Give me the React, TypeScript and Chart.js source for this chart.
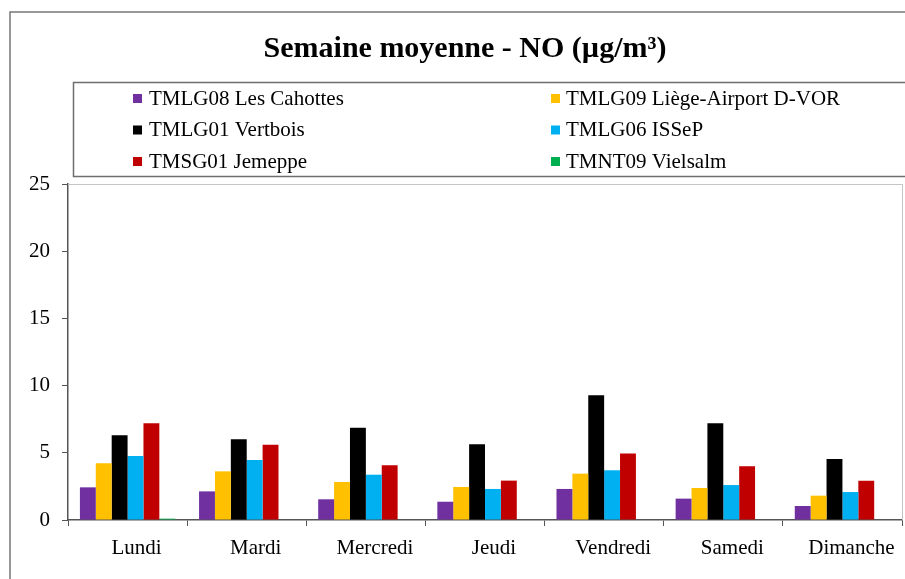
import React, { useEffect, useRef } from "react";
import { Chart, registerables } from "chart.js";

Chart.register(...registerables);

const categories = ["Lundi", "Mardi", "Mercredi", "Jeudi", "Vendredi", "Samedi", "Dimanche"];
const seriesNames = [
  "TMLG08 Les Cahottes",
  "TMLG09 Liège-Airport D-VOR",
  "TMLG01 Vertbois",
  "TMLG06 ISSeP",
  "TMSG01 Jemeppe",
  "TMNT09 Vielsalm",
];
const seriesColors = ["#7030A0", "#FFC000", "#000000", "#00B0F0", "#C00000", "#00B050"];
const lesCahottes = [2.43, 2.13, 1.54, 1.36, 2.31, 1.59, 1.04];
const liegeAirport = [4.22, 3.62, 2.83, 2.46, 3.45, 2.38, 1.81];
const vertbois = [6.3, 6.0, 6.87, 5.63, 9.28, 7.19, 4.54];
const issep = [4.76, 4.46, 3.37, 2.31, 3.7, 2.6, 2.08];
const jemeppe = [7.19, 5.6, 4.07, 2.93, 4.94, 3.99, 2.92];
const vielsalm = [0.1, 0, 0, 0, 0, 0, 0];
const yTicks = [0, 5, 10, 15, 20, 25];
const titleText = "Semaine moyenne - NO (µg/m³)";

const SERIF = "'Liberation Serif', 'Times New Roman', serif";

const framePlugin = {
  id: "framePlugin",
  beforeDraw(chart: any) {
    const ctx = chart.ctx;
    ctx.save();
    ctx.fillStyle = "#ffffff";
    ctx.fillRect(0, 0, chart.width, chart.height);
    ctx.restore();
  },
  afterDraw(chart: any) {
    const ctx = chart.ctx;
    const a = chart.chartArea;
    ctx.save();
    // outer chart frame
    ctx.strokeStyle = "#777777";
    ctx.lineWidth = 1.5;
    ctx.strokeRect(10, 12, chart.width + 20, chart.height + 20);
    // title
    ctx.fillStyle = "#000000";
    ctx.font = "bold 30px " + SERIF;
    ctx.textAlign = "center";
    ctx.textBaseline = "middle";
    ctx.fillText(titleText, 465, 49);
    // plot area frame (top and right)
    ctx.strokeStyle = "#c4c4c4";
    ctx.lineWidth = 1;
    ctx.beginPath();
    ctx.moveTo(a.left, a.top + 0.5);
    ctx.lineTo(a.right + 0.5, a.top + 0.5);
    ctx.lineTo(a.right + 0.5, a.bottom);
    ctx.stroke();
    // legend box
    ctx.strokeStyle = "#6e6e6e";
    ctx.lineWidth = 1.5;
    ctx.strokeRect(73.5, 82.5, 900, 94);
    // legend items
    const ds = chart.data.datasets;
    ctx.font = "21px " + SERIF;
    ctx.textBaseline = "middle";
    ctx.textAlign = "left";
    const markerX = [133, 551];
    const textX = [149, 566];
    const rowY = [98, 129.5, 161];
    ds.forEach((d: any, i: number) => {
      const col = i % 2;
      const row = Math.floor(i / 2);
      ctx.fillStyle = d.backgroundColor;
      ctx.fillRect(markerX[col], rowY[row] - 4, 9, 9);
      ctx.fillStyle = "#000000";
      ctx.fillText(d.label, textX[col], rowY[row] + 1);
    });
    ctx.restore();
  },
};

export default function App() {
  const ref = useRef<HTMLCanvasElement | null>(null);
  useEffect(() => {
    if (!ref.current) return;
    const datasets = [lesCahottes, liegeAirport, vertbois, issep, jemeppe, vielsalm].map((vals, i) => ({
      label: seriesNames[i],
      data: vals,
      backgroundColor: seriesColors[i],
      borderWidth: 0,
      categoryPercentage: 0.8,
      barPercentage: 1.0,
    }));
    const chart = new Chart(ref.current, {
      type: "bar",
      data: { labels: categories, datasets },
      options: {
        animation: false,
        responsive: false,
        maintainAspectRatio: false,
        layout: { padding: { left: 0, right: 3, top: 184, bottom: 0 } },
        plugins: {
          legend: { display: false },
          tooltip: { enabled: false },
          title: { display: false },
        },
        scales: {
          x: {
            grid: {
              display: true,
              drawOnChartArea: false,
              drawTicks: true,
              tickLength: 6,
              offset: true,
              color: "#555555",
            },
            border: { display: true, color: "#555555", width: 1.5 },
            ticks: {
              color: "#000000",
              font: { family: SERIF, size: 21 },
              padding: 10,
              labelOffset: 9,
              maxRotation: 0,
              autoSkip: false,
            },
            afterFit: (s: any) => {
              s.height = 59;
            },
          },
          y: {
            min: 0,
            max: 25,
            afterBuildTicks: (s: any) => {
              s.ticks = yTicks.map((v) => ({ value: v }));
            },
            grid: {
              display: true,
              drawOnChartArea: false,
              drawTicks: true,
              tickLength: 6,
              color: "#555555",
            },
            border: { display: true, color: "#555555", width: 1.5 },
            ticks: {
              color: "#000000",
              font: { family: SERIF, size: 21 },
              padding: 12,
            },
            afterFit: (s: any) => {
              s.width = 68;
            },
          },
        },
      },
      plugins: [framePlugin],
    });
    return () => chart.destroy();
  }, []);
  return (
    <div style={{ position: "fixed", left: 0, top: 0, width: 905, height: 579 }}>
      <canvas ref={ref} width={905} height={579} style={{ width: 905, height: 579, display: "block" }} />
    </div>
  );
}
